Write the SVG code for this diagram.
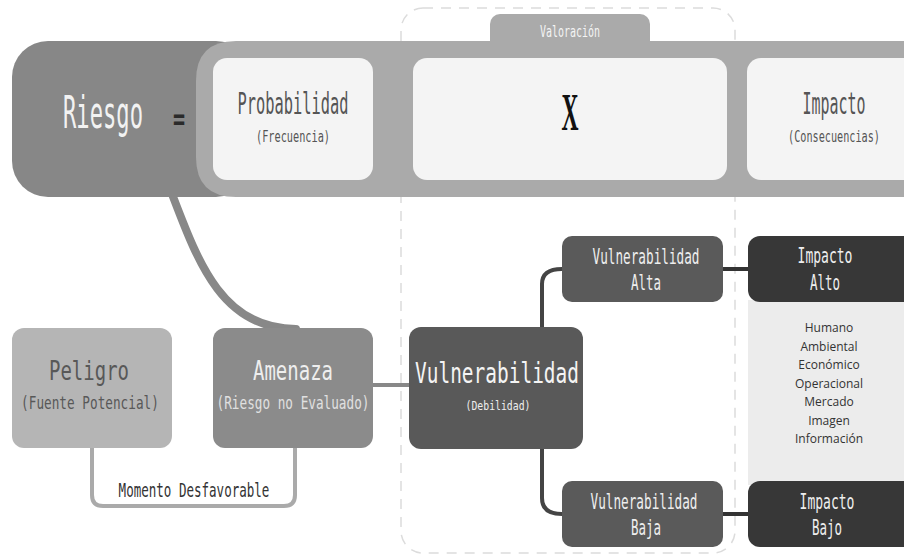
<svg xmlns="http://www.w3.org/2000/svg" width="904" height="556" viewBox="0 0 904 556">
<defs>
<style>
.m{font-family:"DejaVu Sans Mono","Liberation Mono",monospace;text-anchor:middle}
.s{font-family:"Open Sans","Noto Sans",sans-serif;text-anchor:middle;font-size:12px;fill:#333}
.frame{fill:none;stroke:#dcdcdc;stroke-width:1.5;stroke-dasharray:10 8}
.inner{fill:#f4f4f4}
.conn{fill:none;stroke-linecap:round;stroke-linejoin:round}
</style>
</defs>
<rect width="904" height="556" fill="#ffffff"/>
<rect class="frame" x="401" y="8" width="334" height="545" rx="22"/>
<g id="valoracion">
<rect x="490" y="14" width="160" height="40" rx="10" fill="#aaaaaa"/>
<text class="m" transform="translate(570,37) scale(0.623,1)" font-size="16" fill="#f4f4f4">Valoración</text>
</g>
<g id="connectors">
<path class="conn" d="M172,194 C198,262 222,329 296,329" stroke="#888888" stroke-width="8"/>
<path class="conn" d="M92,446 V495 Q92,506 103,506 H284 Q295,506 295,495 V446" stroke="#aaaaaa" stroke-width="4"/>
<path class="conn" d="M372,385 H410" stroke="#888888" stroke-width="4"/>
<path class="conn" d="M542,328 V284 Q542,269 562,269" stroke="#444444" stroke-width="4"/>
<path class="conn" d="M542,448 V498 Q542,514 562,514" stroke="#444444" stroke-width="4"/>
<path class="conn" d="M722,269 H750" stroke="#333333" stroke-width="4"/>
<path class="conn" d="M722,514 H750" stroke="#333333" stroke-width="4"/>
</g>
<g id="riesgo">
<rect x="12" y="41" width="240" height="156" rx="36" fill="#878787"/>
<path d="M236,41 H904 V197 H236 Q196,197 196,157 V81 Q196,41 236,41 Z" fill="#aaaaaa"/>
<text class="m" transform="translate(103,128) scale(0.503,1)" font-size="44" fill="#f2f2f2">Riesgo</text>
<text class="m" transform="translate(179,129) scale(0.67,1)" font-size="30" font-weight="bold" fill="#2a2a2a">=</text>
</g>
<g id="probabilidad">
<rect class="inner" x="213" y="58" width="160" height="122" rx="14"/>
<text class="m" transform="translate(293,114) scale(0.512,1)" font-size="30" fill="#555555">Probabilidad</text>
<text class="m" transform="translate(293,142) scale(0.64,1)" font-size="16" fill="#555555">(Frecuencia)</text>
</g>
<g id="multiplicacion">
<rect class="inner" x="413" y="58" width="314" height="122" rx="14"/>
<text transform="translate(570,130) scale(0.453,1)" font-family="'Liberation Serif',serif" font-weight="bold" font-size="52" fill="#111111" text-anchor="middle">X</text>
</g>
<g id="impacto">
<rect class="inner" x="747" y="58" width="170" height="122" rx="14" fill="#f0f0f0"/>
<text class="m" transform="translate(834,114) scale(0.498,1)" font-size="30" fill="#555555">Impacto</text>
<text class="m" transform="translate(834,142) scale(0.637,1)" font-size="16" fill="#555555">(Consecuencias)</text>
</g>
<g id="peligro">
<rect x="12" y="328" width="160" height="120" rx="12" fill="#b5b5b5"/>
<text class="m" transform="translate(89,380) scale(0.703,1)" font-size="27" fill="#585858">Peligro</text>
<text class="m" transform="translate(90,409) scale(0.749,1)" font-size="17" fill="#585858">(Fuente Potencial)</text>
</g>
<g id="amenaza">
<rect x="213" y="328" width="160" height="120" rx="12" fill="#8b8b8b"/>
<text class="m" transform="translate(293,380) scale(0.703,1)" font-size="27" fill="#eeeeee">Amenaza</text>
<text class="m" transform="translate(293,409) scale(0.747,1)" font-size="17" fill="#e0e0e0">(Riesgo no Evaluado)</text>
</g>
<g id="momento">
<text class="m" transform="translate(194,497) scale(0.66,1)" font-size="19" fill="#333333">Momento Desfavorable</text>
</g>
<g id="vulnerabilidad">
<rect x="409" y="327" width="174" height="122" rx="12" fill="#595959"/>
<text class="m" transform="translate(497,383) scale(0.671,1)" font-size="29" fill="#f4f4f4">Vulnerabilidad</text>
<text class="m" transform="translate(498,410) scale(0.755,1)" font-size="13" fill="#eeeeee">(Debilidad)</text>
</g>
<g id="vuln-alta">
<rect x="562" y="236" width="161" height="66" rx="10" fill="#5a5a5a"/>
<text class="m" transform="translate(646,264) scale(0.577,1)" font-size="22" fill="#eeeeee">Vulnerabilidad</text>
<text class="m" transform="translate(646,290) scale(0.593,1)" font-size="21" fill="#eeeeee">Alta</text>
</g>
<g id="vuln-baja">
<rect x="562" y="481" width="161" height="66" rx="10" fill="#5a5a5a"/>
<text class="m" transform="translate(644,509) scale(0.577,1)" font-size="22" fill="#eeeeee">Vulnerabilidad</text>
<text class="m" transform="translate(646,535) scale(0.593,1)" font-size="21" fill="#eeeeee">Baja</text>
</g>
<g id="panel-consecuencias">
<rect x="748" y="300" width="156" height="185" fill="#ececec"/>
<text class="s" x="829" y="332">Humano</text>
<text class="s" x="829" y="351">Ambiental</text>
<text class="s" x="829" y="369">Económico</text>
<text class="s" x="829" y="388">Operacional</text>
<text class="s" x="829" y="406">Mercado</text>
<text class="s" x="829" y="425">Imagen</text>
<text class="s" x="829" y="443">Información</text>
</g>
<g id="impacto-alto">
<rect x="748" y="236" width="170" height="66" rx="12" fill="#373737"/>
<text class="m" transform="translate(825,263) scale(0.621,1)" font-size="21" fill="#eeeeee">Impacto</text>
<text class="m" transform="translate(825,290) scale(0.593,1)" font-size="21" fill="#eeeeee">Alto</text>
</g>
<g id="impacto-bajo">
<rect x="748" y="481" width="170" height="66" rx="12" fill="#373737"/>
<text class="m" transform="translate(827,509) scale(0.621,1)" font-size="21" fill="#eeeeee">Impacto</text>
<text class="m" transform="translate(827,535) scale(0.593,1)" font-size="21" fill="#eeeeee">Bajo</text>
</g>
</svg>
